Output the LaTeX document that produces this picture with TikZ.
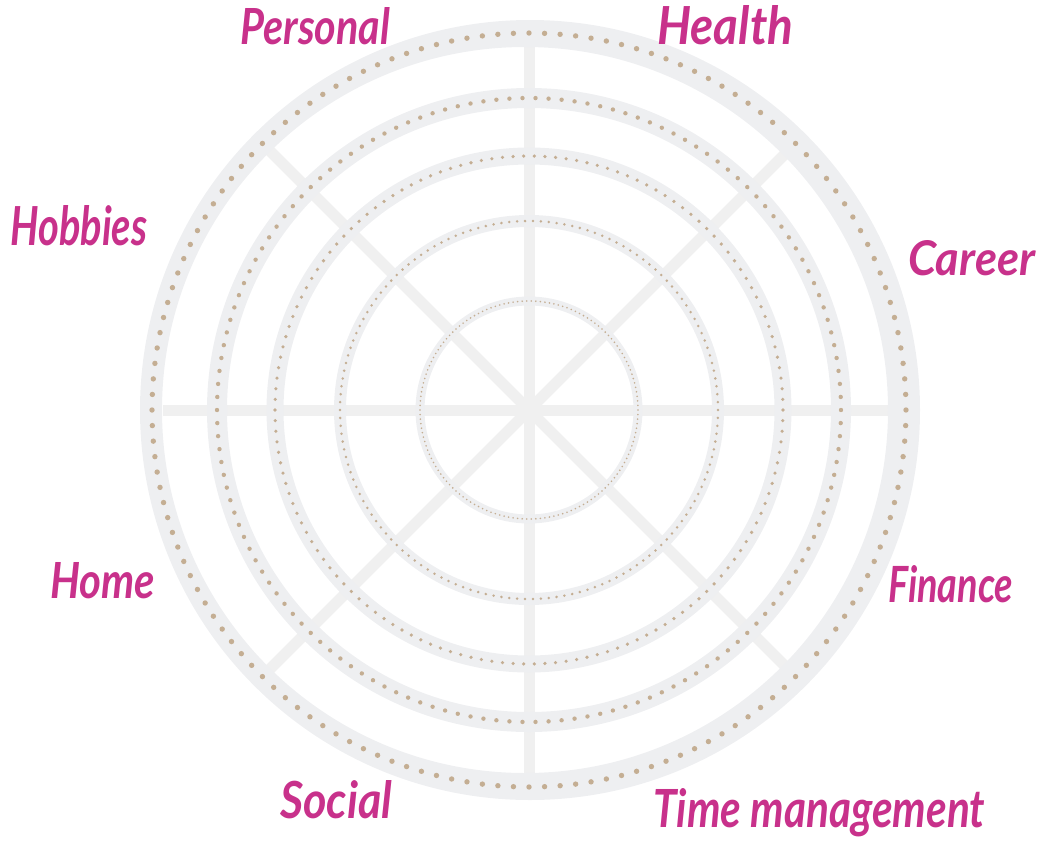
\documentclass[tikz,border=0pt]{standalone}
\usepackage{fontspec}
\usepackage{graphicx}
\newfontfamily\labfont{Lato}
\definecolor{ringc}{HTML}{EEEFF1}
\definecolor{spokec}{HTML}{F0F0F0}
\definecolor{dotc}{HTML}{C4AE93}
\definecolor{labc}{HTML}{C8318B}
\tikzset{
  spoke/.style={draw=spokec, line width=11pt},
  band/.style={draw=ringc},
  dotfill/.style={fill=dotc},
  lab/.style={anchor=base west, inner sep=0pt, text=labc, font=\labfont\bfseries\itshape}
}
\begin{document}
\begin{tikzpicture}[x=1pt,y=-1pt]
\useasboundingbox (0,0) rectangle (1039,844);
\coordinate (c) at (529,410);
% spokes
\foreach \a in {0,45,...,315} \draw[spoke] (c) -- ([shift={(\a:366)}]c);
% outer band (slightly thicker on the right)
\fill[ringc, even odd rule] (530,410) circle (390) (525,410) circle (363);
% inner bands
\draw[band, line width=20pt] (c) circle (312);
\draw[band, line width=17pt] (c) circle (254);
\draw[band, line width=12pt] (c) circle (189);
\draw[band, line width=9pt] (c) circle (109);
% dotted circles
\foreach \R/\r/\n in {377/2.7/152, 312/2.2/150, 254/1.8/150, 189/1.4/150, 109/0.9/150} {
  \pgfmathsetmacro{\st}{360/\n}
  \foreach \i in {1,...,\n} \fill[dotfill] ([shift={(\i*\st:\R)}]c) circle (\r);
}
% labels
\node[lab] (personal) at (240,44) {\resizebox{150pt}{37pt}{Personal}};
\node[lab] (health) at (657,44) {\resizebox{136pt}{39pt}{Health}};
\node[lab] (career) at (908,275) {\resizebox{127pt}{35pt}{Career}};
\node[lab] (hobbies) at (10,245) {\resizebox{137pt}{40pt}{Hobbies}};
\node[lab] (home) at (50,598) {\resizebox{105pt}{36pt}{Home}};
\node[lab] (finance) at (888,602) {\resizebox{125pt}{37pt}{Finance}};
\node[lab] (social) at (280,818) {\resizebox{112pt}{38pt}{Social}};
\node[lab] (time) at (653,827) {\resizebox{332pt}{39pt}{Time management}};
\end{tikzpicture}
\end{document}
